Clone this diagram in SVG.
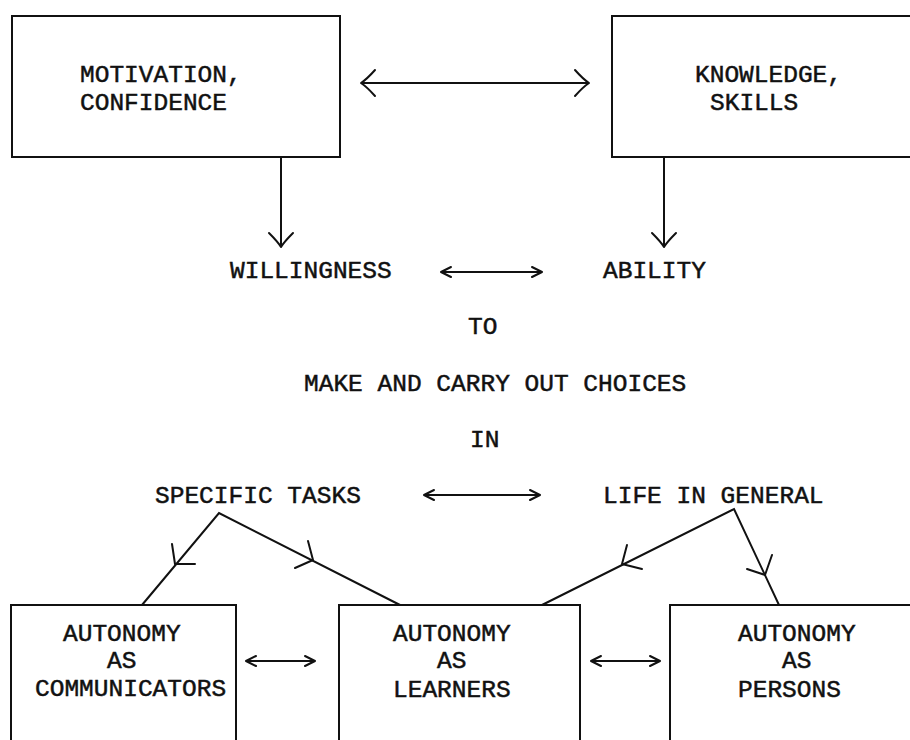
<svg xmlns="http://www.w3.org/2000/svg" width="910" height="740" viewBox="0 0 910 740">
  <style>
    .box { fill: none; stroke: #111; stroke-width: 2; }
    .ln { fill: none; stroke: #111; stroke-width: 2; }
    .hd { fill: none; stroke: #111; stroke-width: 2; stroke-linecap: round; stroke-linejoin: round; }
    text { font-family: "Liberation Mono", "Courier New", monospace; font-size: 24.5px; fill: #111; stroke: #111; stroke-width: 0.5; }
  </style>
  <defs>
    <marker id="chev-lg" markerUnits="userSpaceOnUse" viewBox="-16 -15 18 30" markerWidth="18" markerHeight="30" refX="0" refY="0" orient="auto-start-reverse">
      <path class="hd" d="M -14,-13 Q -6,-4 0,0 Q -6,4 -14,13"/>
    </marker>
    <marker id="chev-dn" markerUnits="userSpaceOnUse" viewBox="-16 -14 18 28" markerWidth="18" markerHeight="28" refX="0" refY="0" orient="auto">
      <path class="hd" d="M -14,-12 Q -5,-3 0,0 Q -5,3 -14,12"/>
    </marker>
    <marker id="chev-sm" markerUnits="userSpaceOnUse" viewBox="-12 -7 14 14" markerWidth="14" markerHeight="14" refX="0" refY="0" orient="auto-start-reverse">
      <path class="hd" d="M -10,-5 L 0,0 L -10,5"/>
    </marker>
  </defs>

  <!-- boxes -->
  <g id="motivation">
    <rect class="box" x="12" y="16" width="328" height="141"/>
    <text x="80" y="82">MOTIVATION,</text>
    <text x="80" y="110">CONFIDENCE</text>
  </g>
  <g id="knowledge">
    <rect class="box" x="612" y="16" width="320" height="141"/>
    <text x="695" y="82">KNOWLEDGE,</text>
    <text x="710" y="110">SKILLS</text>
  </g>

  <!-- free-standing labels -->
  <g id="willingness"><text x="230" y="278">WILLINGNESS</text></g>
  <g id="ability"><text x="603" y="278">ABILITY</text></g>
  <g id="to"><text x="468" y="334">TO</text></g>
  <g id="choices"><text x="304" y="391">MAKE AND CARRY OUT CHOICES</text></g>
  <g id="in"><text x="470" y="447">IN</text></g>
  <g id="specific-tasks"><text x="155" y="503">SPECIFIC TASKS</text></g>
  <g id="life-in-general"><text x="603" y="503">LIFE IN GENERAL</text></g>

  <g id="communicators">
    <rect class="box" x="11" y="605" width="225" height="160"/>
    <text x="63" y="641">AUTONOMY</text>
    <text x="107" y="668">AS</text>
    <text x="35" y="696">COMMUNICATORS</text>
  </g>
  <g id="learners">
    <rect class="box" x="339" y="605" width="241" height="160"/>
    <text x="393" y="641">AUTONOMY</text>
    <text x="437" y="668">AS</text>
    <text x="393" y="697">LEARNERS</text>
  </g>
  <g id="persons">
    <rect class="box" x="670" y="605" width="260" height="160"/>
    <text x="738" y="641">AUTONOMY</text>
    <text x="782" y="668">AS</text>
    <text x="738" y="697">PERSONS</text>
  </g>

  <!-- connectors -->
  <g id="connectors">
    <line class="ln" x1="361" y1="83" x2="589" y2="83" marker-start="url(#chev-lg)" marker-end="url(#chev-lg)"/>
    <line class="ln" x1="281" y1="157" x2="281" y2="247" marker-end="url(#chev-dn)"/>
    <line class="ln" x1="664" y1="157" x2="664" y2="247" marker-end="url(#chev-dn)"/>
    <line class="ln" x1="441" y1="272" x2="542" y2="272" marker-start="url(#chev-sm)" marker-end="url(#chev-sm)"/>
    <line class="ln" x1="424" y1="495" x2="540" y2="495" marker-start="url(#chev-sm)" marker-end="url(#chev-sm)"/>
    <line class="ln" x1="246" y1="661" x2="315" y2="661" marker-start="url(#chev-sm)" marker-end="url(#chev-sm)"/>
    <line class="ln" x1="591" y1="661" x2="660" y2="661" marker-start="url(#chev-sm)" marker-end="url(#chev-sm)"/>

    <!-- branches from SPECIFIC TASKS -->
    <polyline class="ln" points="142,605 219,513 400,605"/>
    <polyline class="hd" points="172,544 175,564 195,564"/>
    <polyline class="hd" points="308,541 313,560 295,568"/>

    <!-- branches from LIFE IN GENERAL -->
    <polyline class="ln" points="542,605 734,509 779,605"/>
    <polyline class="hd" points="627,545 622,564 642,569"/>
    <polyline class="hd" points="772,555 765,575 747,569"/>
  </g>
</svg>
